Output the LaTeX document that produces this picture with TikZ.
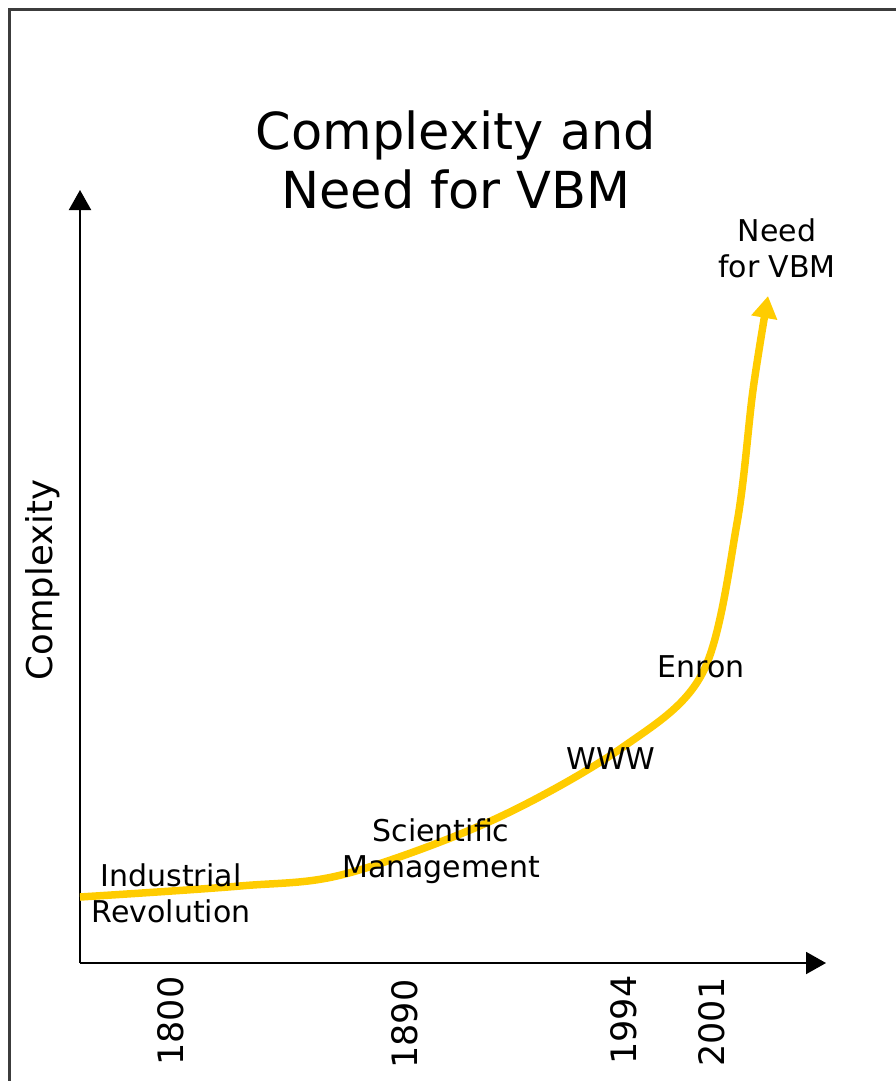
\documentclass[tikz,border=0pt]{standalone}
\usepackage{fontspec}
\setmainfont{DejaVu Sans}
\usepackage{tikz}
\usetikzlibrary{arrows.meta,positioning}
\definecolor{curvegold}{RGB}{255,204,0}
\definecolor{framegray}{RGB}{60,60,60}
\tikzset{
    %Define standard arrow tip
    >={Triangle[length=20pt,width=22pt]},
    %Define style for labels
    title/.style={
           align=center,
           font=\fontsize{51}{59}\selectfont,
           inner sep=0pt},
    event/.style={
           align=center,
           font=\fontsize{30}{36}\selectfont,
           inner sep=0pt},
    year/.style={
           rotate=90,
           font=\fontsize{35}{36}\selectfont,
           inner sep=0pt},
    axislabel/.style={
           rotate=90,
           font=\fontsize{35.5}{36}\selectfont,
           inner sep=0pt},
    % Define line styles
    axis/.style={
           ->,
           line width=2pt,
           black},
    growth/.style={
           -{Triangle[length=22pt,width=25pt]},
           line width=7.5pt,
           curvegold,
           line join=round}
}
\begin{document}
\begin{tikzpicture}[x=1pt,y=-1pt]
\useasboundingbox (0,0) rectangle (896,1081);
% frame
\draw[framegray, line width=3pt] (9,1085) -- (9,10) -- (900,10);
% axes
\coordinate (origin) at (80,963);
\coordinate (ytop) at (80,190);
\coordinate (xend) at (826,963);
\draw[axis] (origin) -- (ytop);
\draw[axis] (origin) -- (xend);
% growth curve
\coordinate (c0) at (80,897);
\coordinate (c1) at (240,886);
\coordinate (c2) at (345,874);
\coordinate (c3) at (493,820);
\coordinate (c4) at (623,747);
\coordinate (c5) at (703,672);
\coordinate (c6) at (737,523);
\coordinate (c7) at (753,390);
\coordinate (c8) at (768,296);
\draw[growth] plot[smooth, tension=0.55] coordinates {(c0) (c1) (c2) (c3) (c4) (c5) (c6) (c7) (c8)};
% labels
\node[title] (head) at (456,160) {Complexity and\\Need for VBM};
\node[event] (need) at (777,248) {Need\\for VBM};
\node[event] (industrial) at (171,893) {Industrial\\Revolution};
\node[event] (scientific) at (441,851) {Scientific\\Management};
\node[event] (www) at (611,759) {WWW};
\node[event] (enron) at (701,667) {Enron};
\node[axislabel] (complexity) at (43,580) {Complexity};
\node[year] (y1800) at (171,1021) {1800};
\node[year] (y1890) at (405,1024) {1890};
\node[year] (y1994) at (624,1020) {1994};
\node[year] (y2001) at (712,1022) {2001};
\end{tikzpicture}
\end{document}
